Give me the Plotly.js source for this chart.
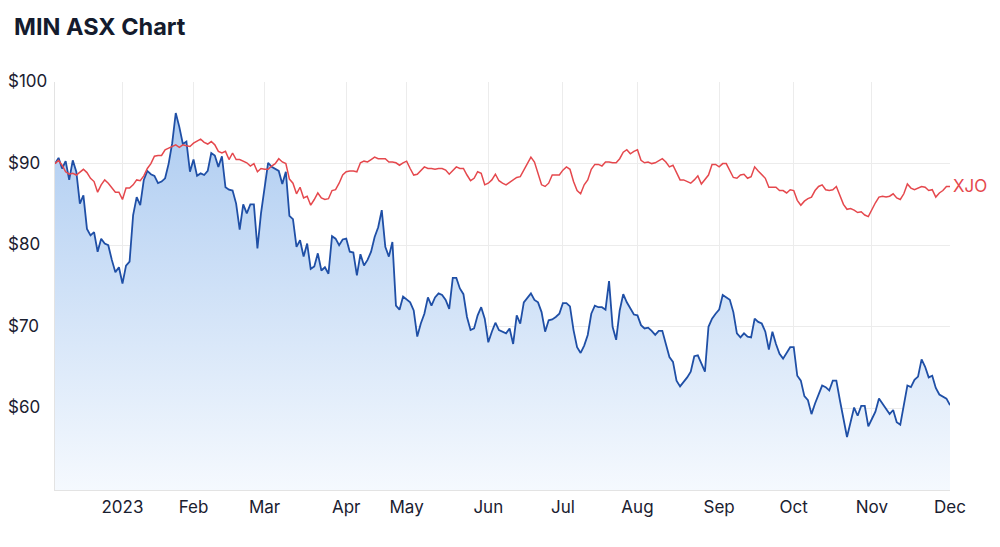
<!DOCTYPE html>
<html>
<head>
<meta charset="utf-8">
<script src="https://cdn.plot.ly/plotly-3.0.1.min.js"></script>
<style>
  html, body { margin: 0; padding: 0; background: #ffffff; }
  #chart { width: 1000px; height: 547px; }
</style>
</head>
<body>
<div id="chart"></div>
<script>
// Trading-day index (Dec 2 2022 = 0 ... Dec 1 2023 = 252)
const minPrice = [
  90.0, 90.7, 89.4, 90.3, 88.0, 90.4, 89.0, 85.1, 86.1, 82.0,
  81.2, 81.6, 79.2, 80.8, 80.2, 80.0, 78.2, 76.7, 77.3, 75.3,
  77.5, 78.0, 83.7, 85.9, 84.9, 88.0, 89.1, 88.7, 88.5, 87.6,
  87.8, 88.2, 90.0, 92.5, 96.2, 94.5, 92.4, 92.7, 89.0, 90.5,
  88.5, 88.8, 88.6, 89.1, 91.3, 91.0, 89.6, 90.9, 87.1, 86.8,
  86.7, 85.1, 81.9, 85.0, 83.9, 85.0, 85.0, 79.6, 83.9, 87.0,
  90.1, 89.6, 89.4, 89.1, 87.5, 89.0, 83.6, 83.2, 79.8, 80.6,
  78.6, 80.2, 77.1, 77.4, 79.0, 76.9, 77.3, 76.5, 81.1, 80.8,
  80.0, 80.7, 80.8, 79.2, 79.1, 76.3, 78.9, 77.5, 78.2, 79.2,
  81.0, 82.2, 84.3, 79.8, 78.6, 80.4, 72.6, 72.1, 73.7, 73.3,
  73.0, 72.0, 68.8, 70.4, 71.6, 73.6, 72.6, 73.6, 74.1, 73.9,
  73.3, 72.2, 76.0, 76.0, 74.7, 74.0, 71.2, 69.6, 69.8, 71.4,
  72.4, 71.0, 68.1, 69.4, 70.5, 69.6, 69.4, 69.2, 69.8, 67.9,
  71.4, 70.4, 73.0, 73.5, 74.1, 73.3, 73.0, 71.8, 69.4, 70.8,
  70.9, 71.2, 71.6, 72.9, 72.9, 72.5, 69.6, 67.5, 66.8, 67.7,
  69.0, 71.6, 72.6, 72.4, 72.4, 72.1, 75.6, 70.0, 68.4, 72.0,
  74.0, 73.0, 72.2, 71.5, 71.4, 70.2, 69.8, 69.9, 69.5, 69.0,
  69.5, 69.5, 67.9, 66.3, 65.7, 63.4, 62.7, 63.2, 63.8, 64.5,
  66.4, 66.5, 65.5, 64.5, 70.0, 71.0, 71.6, 72.1, 73.9, 73.6,
  73.3, 71.8, 69.2, 68.7, 69.2, 68.8, 68.7, 71.0, 70.6, 70.4,
  69.4, 67.2, 69.4, 67.9, 66.7, 66.1, 66.8, 67.5, 67.5, 64.0,
  63.4, 61.5, 61.0, 59.3, 60.6, 61.6, 62.8, 62.6, 62.2, 63.4,
  63.4, 61.0, 58.5, 56.5, 58.3, 60.1, 59.1, 60.3, 60.3, 57.8,
  58.7, 59.6, 61.2, 60.6, 60.0, 59.3, 59.8, 58.3, 58.0, 60.2,
  62.8, 62.6, 63.5, 63.9, 66.0, 65.1, 63.8, 64.0, 62.5, 61.7,
  61.4, 61.2, 60.4
];

const xjoRebased = [
  90.0, 90.4, 89.8, 89.0, 88.7, 88.8, 88.6, 88.9, 89.3, 88.9,
  88.2, 87.8, 86.5, 87.4, 88.0, 87.6, 87.1, 86.5, 86.5, 85.6,
  87.0, 87.0, 87.4, 88.0, 87.9, 88.5, 89.4, 90.0, 90.9, 91.0,
  91.0, 91.7, 91.9, 92.1, 92.3, 92.0, 92.3, 92.2, 92.1, 92.5,
  92.7, 93.0, 92.6, 92.4, 92.7, 92.3, 91.5, 91.3, 91.5, 90.5,
  91.3, 90.5, 90.5, 90.3, 90.1, 89.7, 90.0, 89.0, 89.4, 89.3,
  89.3, 89.7, 90.0, 90.6, 90.2, 90.0, 88.1, 87.6, 86.3, 87.1,
  85.8, 86.0, 84.9, 85.6, 86.4, 85.8, 85.6, 85.7, 86.7, 86.8,
  87.6, 88.6, 89.0, 89.1, 89.1, 89.0, 90.1, 90.3, 90.2, 90.5,
  90.8, 90.6, 90.6, 90.6, 90.2, 90.2, 90.1, 89.8, 90.1, 90.3,
  89.4, 88.6, 88.7, 89.1, 89.6, 89.4, 89.4, 89.3, 89.4, 89.4,
  89.2, 88.7, 89.2, 89.6, 89.4, 89.4, 88.6, 87.9, 88.2, 89.0,
  88.8, 87.4, 87.6, 88.0, 88.7, 87.9, 87.6, 87.4, 87.7, 88.0,
  88.3, 88.4, 89.2, 90.0, 90.8, 90.2, 88.9, 87.4, 87.2, 87.6,
  88.6, 88.6, 88.6, 89.2, 89.6, 89.3, 87.8, 86.7, 86.3, 87.4,
  88.0, 89.3, 89.9, 89.9, 89.7, 90.2, 90.2, 90.1, 90.1, 90.6,
  91.4, 91.7, 91.2, 91.5, 91.7, 90.4, 90.1, 90.2, 90.0, 90.1,
  90.4, 90.6, 90.2, 89.6, 89.8, 88.8, 88.0, 88.0, 87.8, 87.6,
  88.0, 88.5, 87.5, 88.1, 88.6, 89.9, 89.9, 89.6, 90.0, 90.0,
  89.2, 88.3, 88.2, 88.6, 88.7, 88.2, 88.4, 89.6, 89.1, 88.7,
  88.2, 87.1, 87.1, 87.1, 86.7, 86.7, 86.4, 86.8, 86.7, 85.5,
  84.9, 85.4, 85.7, 85.9, 86.7, 87.2, 87.4, 86.8, 86.7, 86.8,
  87.2, 86.1, 85.0, 84.4, 84.5, 84.3, 84.0, 84.1, 83.7, 83.5,
  84.4, 85.2, 85.9, 86.0, 85.9, 86.0, 86.3, 85.8, 85.6, 86.3,
  87.5, 87.0, 86.8, 87.0, 87.2, 87.1, 86.7, 86.8, 85.9, 86.4,
  86.7, 87.2, 87.2
];

const monthTickIndex = [19, 39, 59, 82, 99, 122, 143, 164, 187, 208, 230, 252];
const monthTickLabels = ['2023', 'Feb', 'Mar', 'Apr', 'May', 'Jun', 'Jul', 'Aug', 'Sep', 'Oct', 'Nov', 'Dec'];
const priceTicks = [60, 70, 80, 90, 100];
const priceTickLabels = ['$60', '$70', '$80', '$90', '$100'];
const seriesLabel = 'XJO';

const dayIndex = minPrice.map((_, i) => i);
const FONT = 'Inter, "Open Sans", "DejaVu Sans", sans-serif';
const TEXT = '#1a2030';

const traces = [
  {
    x: dayIndex, y: minPrice, type: 'scatter', mode: 'lines',
    line: { color: '#1f4fa6', width: 1.8 },
    fill: 'tozeroy',
    fillgradient: {
      type: 'vertical',
      start: 50, stop: 96,
      colorscale: [[0, 'rgba(245,249,254,1)'], [1, 'rgba(174,204,241,1)']]
    },
    hoverinfo: 'skip', showlegend: false
  },
  {
    x: dayIndex, y: xjoRebased, type: 'scatter', mode: 'lines',
    line: { color: '#e5484d', width: 1.5 },
    hoverinfo: 'skip', showlegend: false
  }
];

const annotations = priceTicks.map((v, k) => ({
  xref: 'paper', yref: 'y', x: -0.0547, y: v,
  xanchor: 'left', yanchor: 'middle', yshift: 1,
  text: priceTickLabels[k], showarrow: false,
  font: { family: FONT, size: 17, color: TEXT }
}));
annotations.push({
  xref: 'x', yref: 'y', x: dayIndex[dayIndex.length - 1], y: xjoRebased[xjoRebased.length - 1],
  xanchor: 'left', yanchor: 'middle', xshift: 1,
  text: seriesLabel, showarrow: false,
  font: { family: FONT, size: 17, color: '#e5484d' }
});

const layout = {
  width: 1000, height: 547,
  margin: { l: 55, r: 50, t: 82, b: 57 },
  paper_bgcolor: '#ffffff', plot_bgcolor: '#ffffff',
  title: {
    text: '<b>MIN ASX Chart</b>',
    xref: 'container', yref: 'container',
    x: 0.014, xanchor: 'left', y: 0.951, yanchor: 'middle',
    font: { family: FONT, size: 23.5, color: '#141b2d' }
  },
  xaxis: {
    range: [0, 252],
    tickmode: 'array', tickvals: monthTickIndex, ticktext: monthTickLabels,
    showgrid: true, gridcolor: '#ececec', gridwidth: 1,
    zeroline: false, showline: true, linecolor: '#e3e3e3', linewidth: 1,
    ticks: '', ticklabelstandoff: 2,
    tickfont: { family: FONT, size: 17, color: TEXT },
    fixedrange: true
  },
  yaxis: {
    range: [50, 100],
    tickmode: 'array', tickvals: priceTicks,
    showticklabels: false,
    showgrid: true, gridcolor: '#ececec', gridwidth: 1,
    zeroline: false, showline: true, linecolor: '#e3e3e3', linewidth: 1,
    ticks: '', fixedrange: true
  },
  annotations: annotations
};

Plotly.newPlot('chart', traces, layout, { displayModeBar: false, staticPlot: true });
</script>
</body>
</html>
